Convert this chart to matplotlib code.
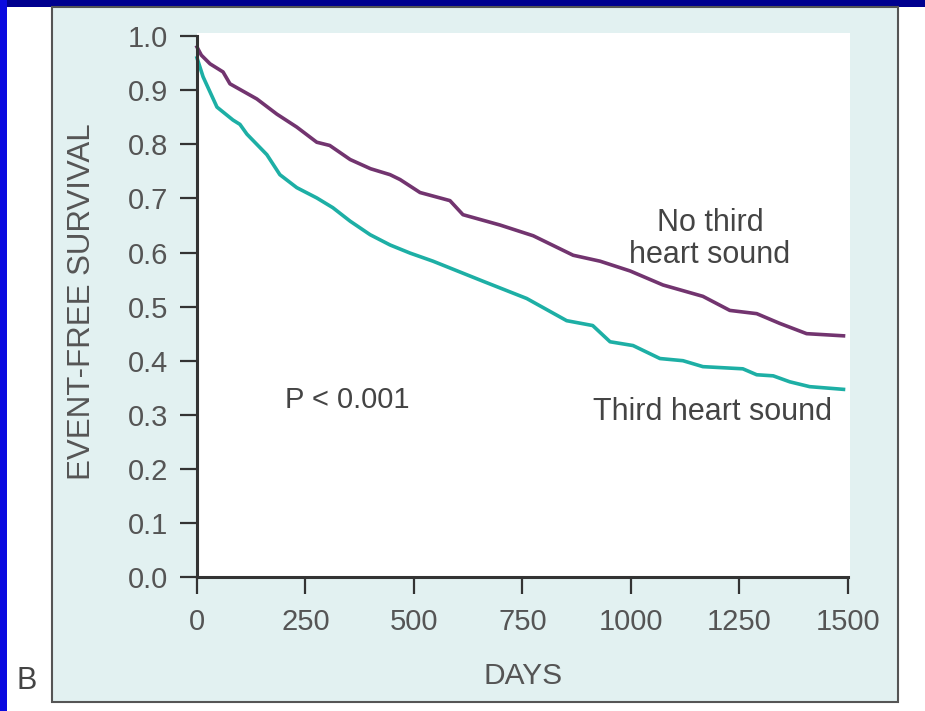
import matplotlib
matplotlib.use('Agg')
import matplotlib.pyplot as plt
from matplotlib.patches import Rectangle

plt.rcParams['font.family'] = ['Liberation Sans', 'DejaVu Sans']

# Kaplan-Meier curves (days, event-free survival)
no_s3_days = [0, 10, 30, 60, 76, 138, 184, 230, 276, 306, 353, 400, 445, 468,
              514, 583, 613, 698, 775, 867, 929, 998, 1074, 1166, 1228, 1290,
              1343, 1405, 1490]
no_s3_surv = [0.98, 0.965, 0.949, 0.934, 0.912, 0.884, 0.856, 0.832, 0.804,
              0.798, 0.772, 0.755, 0.744, 0.735, 0.711, 0.696, 0.670, 0.651,
              0.631, 0.595, 0.584, 0.566, 0.540, 0.519, 0.493, 0.487, 0.469,
              0.450, 0.446]

s3_days = [0, 14, 46, 83, 99, 115, 161, 191, 230, 276, 313, 353, 399, 445,
           491, 544, 659, 760, 852, 912, 952, 1005, 1067, 1120, 1166, 1258,
           1290, 1328, 1366, 1412, 1490]
s3_surv = [0.96, 0.925, 0.869, 0.845, 0.837, 0.819, 0.781, 0.744, 0.720,
           0.701, 0.683, 0.658, 0.633, 0.614, 0.599, 0.584, 0.547, 0.515,
           0.474, 0.465, 0.435, 0.428, 0.404, 0.400, 0.389, 0.385, 0.374,
           0.372, 0.361, 0.352, 0.347]

x_ticks = [0, 250, 500, 750, 1000, 1250, 1500]
y_ticks = [0.0, 0.1, 0.2, 0.3, 0.4, 0.5, 0.6, 0.7, 0.8, 0.9, 1.0]

W, H = 925, 711
fig = plt.figure(figsize=(W / 100, H / 100), dpi=100)
fig.patch.set_facecolor('white')

# slide background strips and the light panel behind the chart
fig.patches.append(Rectangle((0, 1 - 7 / H), 1, 7 / H, transform=fig.transFigure,
                             facecolor='#00008F', edgecolor='none', zorder=-5))
fig.patches.append(Rectangle((0, 0), 7 / W, 1, transform=fig.transFigure,
                             facecolor='#0A0AE0', edgecolor='none', zorder=-5))
fig.patches.append(Rectangle((52 / W, 1 - 702 / H), (898 - 52) / W, (702 - 7) / H,
                             transform=fig.transFigure, facecolor='#E2F1F1',
                             edgecolor='#555555', linewidth=1.5, zorder=-5))

ax = fig.add_axes([197 / W, 1 - 577 / H, (850 - 197) / W, (577 - 33) / H])
ax.set_zorder(2)
ax.set_facecolor('white')

purple = '#72346F'
teal = '#1DAFA5'
ax.plot(no_s3_days, no_s3_surv, color=purple, lw=2.6, clip_on=False)
ax.plot(s3_days, s3_surv, color=teal, lw=2.6, clip_on=False)

ax.set_xlim(0, 1505)
ax.set_ylim(0, 1.006)
ax.set_xticks(x_ticks)
ax.set_yticks(y_ticks)
ax.set_yticklabels(['%.1f' % v for v in y_ticks])

for s in ['top', 'right']:
    ax.spines[s].set_visible(False)
ax.spines['left'].set_bounds(0, 1.0)
ax.spines['bottom'].set_bounds(0, 1500)
for s in ['left', 'bottom']:
    ax.spines[s].set_color('#333333')
    ax.spines[s].set_linewidth(2.2)

ax.tick_params(axis='both', colors='#333333', width=1.6, length=12,
               labelsize=21, labelcolor='#555555')
ax.tick_params(axis='x', pad=10)
ax.tick_params(axis='y', pad=9)

txt = '#444444'
ax.text(203, 0.327, 'P < 0.001', fontsize=21, color=txt, ha='left', va='center')
ax.text(1182, 0.625, 'No third\nheart sound', fontsize=22, color=txt,
        ha='center', va='center', linespacing=1.12)
ax.text(1189, 0.305, 'Third heart sound', fontsize=22, color=txt,
        ha='center', va='center')

fig.text(82 / W, 1 - 302 / H, 'EVENT-FREE SURVIVAL', rotation=90, fontsize=22.5,
         color='#555555', ha='center', va='center')
fig.text(523 / W, 1 - 676 / H, 'DAYS', fontsize=21.5, color='#555555',
         ha='center', va='center')
fig.text(27 / W, 1 - 681 / H, 'B', fontsize=22, color=txt, ha='center', va='center')

fig.savefig('out.png', dpi=100)
